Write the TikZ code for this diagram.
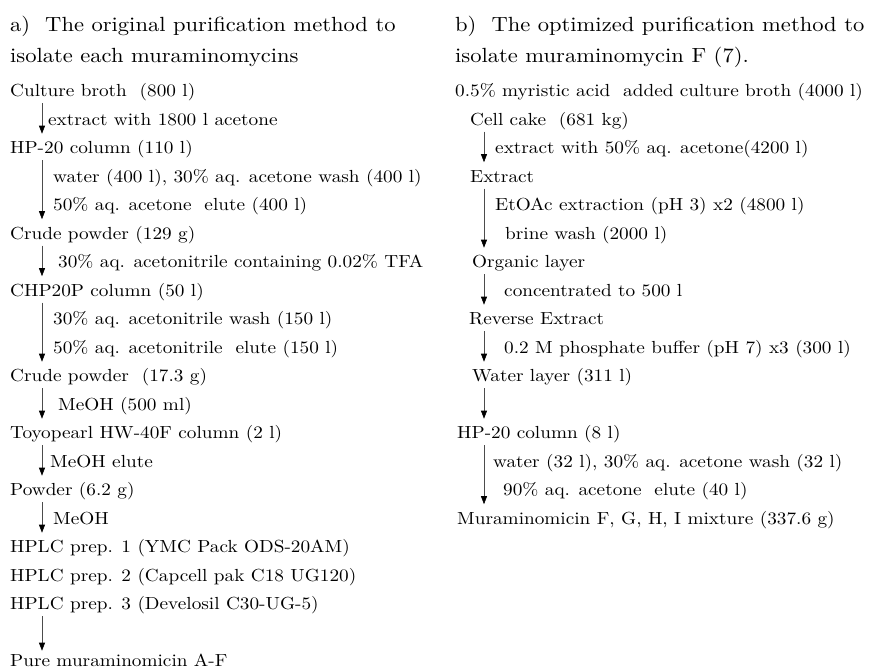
\documentclass[tikz,border=0pt]{standalone}
\usepackage{fontspec}
\setmainfont{lmroman10-regular.otf}[FakeStretch=1.1]
\usetikzlibrary{arrows.meta}

\tikzset{
  txt/.style={anchor=base west, inner sep=0pt, text height=12pt, text depth=5pt,
    font=\fontsize{17.5}{20}\selectfont},
  ttl/.style={anchor=base west, inner sep=0pt, font=\fontsize{20.5}{24}\selectfont},
  flow/.style={-{Triangle[length=8pt,width=6pt,color=black]}, draw=black!70,
    line width=0.6pt, shorten <=1pt, shorten >=8pt},
}

\begin{document}
\begin{tikzpicture}[x=1pt, y=-28.5pt]
\useasboundingbox (0,-3.4) rectangle (875,20.105);

% a) original route
\node[ttl] (ta1) at (10,-2.28) {a)\ \ The original purification method to};
\node[ttl] (ta2) at (10,-1.19) {isolate each muraminomycins};

\node[txt] (broth)  at (10,0)  {Culture broth\ \ (800 l)};
\node[txt] (hpa)    at (10,2)  {HP-20 column (110 l)};
\node[txt] (crude1) at (10,5)  {Crude powder (129 g)};
\node[txt] (chp)    at (10,7)  {CHP20P column (50 l)};
\node[txt] (crude2) at (10,10) {Crude powder\ \ (17.3 g)};
\node[txt] (toyo)   at (10,12) {Toyopearl HW-40F column (2 l)};
\node[txt] (powder) at (10,14) {Powder (6.2 g)};
\node[txt] (hplc1)  at (10,16) {HPLC prep. 1 (YMC Pack ODS-20AM)};
\node[txt] (hplc2)  at (10,17) {HPLC prep. 2 (Capcell pak C18 UG120)};
\node[txt] (hplc3)  at (10,18) {HPLC prep. 3 (Develosil C30-UG-5)};
\node[txt] (pure)   at (10,20) {Pure muraminomicin A-F};

\node[txt] (sa1) at (48,1)  {extract with 1800 l acetone};
\node[txt] (sa2) at (53,3)  {water (400 l), 30\% aq. acetone wash (400 l)};
\node[txt] (sa3) at (53,4)  {50\% aq. acetone\ \ elute (400 l)};
\node[txt] (sa4) at (58,6)  {30\% aq. acetonitrile containing 0.02\% TFA};
\node[txt] (sa5) at (53,8)  {30\% aq. acetonitrile wash (150 l)};
\node[txt] (sa6) at (53,9)  {50\% aq. acetonitrile\ \ elute (150 l)};
\node[txt] (sa7) at (58,11) {MeOH (500 ml)};
\node[txt] (sa8) at (50,13) {MeOH elute};
\node[txt] (sa9) at (53,15) {MeOH};

\coordinate (ax) at (42,0);
\draw[flow] (broth.south -| ax)  -- (hpa.north -| ax);
\draw[flow] (hpa.south -| ax)    -- (crude1.north -| ax);
\draw[flow] (crude1.south -| ax) -- (chp.north -| ax);
\draw[flow] (chp.south -| ax)    -- (crude2.north -| ax);
\draw[flow] (crude2.south -| ax) -- (toyo.north -| ax);
\draw[flow] (toyo.south -| ax)   -- (powder.north -| ax);
\draw[flow] (powder.south -| ax) -- (hplc1.north -| ax);
\draw[flow, shorten >=4pt] (hplc3.south -| ax) -- (pure.north -| ax);

% b) optimized route
\node[ttl] (tb1) at (455,-2.28) {b)\ \ The optimized purification method to};
\node[ttl] (tb2) at (455,-1.19) {isolate muraminomycin F (7).};

\node[txt] (myr)  at (455,0)  {0.5\% myristic acid\ \ added culture broth (4000 l)};
\node[txt] (cake) at (470,1)  {Cell cake\ \ (681 kg)};
\node[txt] (ext)  at (470,3)  {Extract};
\node[txt] (org)  at (472,6)  {Organic layer};
\node[txt] (rev)  at (469,8)  {Reverse Extract};
\node[txt] (wat)  at (472,10) {Water layer (311 l)};
\node[txt] (hpb)  at (457,12) {HP-20 column (8 l)};
\node[txt] (mix)  at (457,15) {Muraminomicin F, G, H, I mixture (337.6 g)};

\node[txt] (sb1) at (495,2)  {extract with 50\% aq. acetone(4200 l)};
\node[txt] (sb2) at (495,4)  {EtOAc extraction (pH 3) x2 (4800 l)};
\node[txt] (sb3) at (505,5)  {brine wash (2000 l)};
\node[txt] (sb4) at (504,7)  {concentrated to 500 l};
\node[txt] (sb5) at (504,9)  {0.2 M phosphate buffer (pH 7) x3 (300 l)};
\node[txt] (sb6) at (493,13) {water (32 l), 30\% aq. acetone wash (32 l)};
\node[txt] (sb7) at (503,14) {90\% aq. acetone\ \ elute (40 l)};

\coordinate (bx) at (484,0);
\draw[flow] (cake.south -| bx) -- (ext.north -| bx);
\draw[flow] (ext.south -| bx)  -- (org.north -| bx);
\draw[flow] (org.south -| bx)  -- (rev.north -| bx);
\draw[flow] (rev.south -| bx)  -- (wat.north -| bx);
\draw[flow] (wat.south -| bx)  -- (hpb.north -| bx);
\draw[flow] (hpb.south -| bx)  -- (mix.north -| bx);
\end{tikzpicture}
\end{document}
